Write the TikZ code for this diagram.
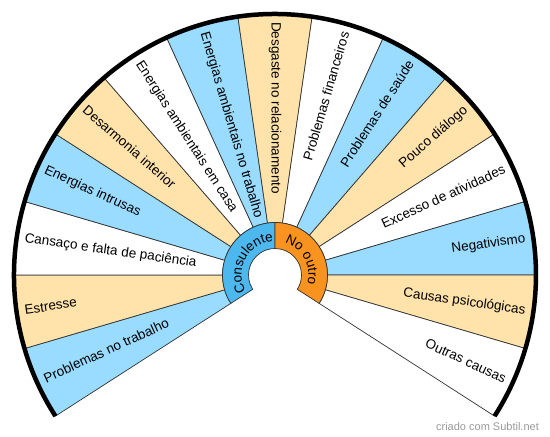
\documentclass[tikz,border=0pt]{standalone}
\usepackage{fontspec}
\setmainfont{Liberation Sans}
\usetikzlibrary{decorations.text}

\definecolor{fanblue}{RGB}{153,220,255}
\definecolor{fanbeige}{RGB}{255,227,170}
\definecolor{ringblue}{RGB}{77,184,238}
\definecolor{ringorange}{RGB}{247,147,30}
\definecolor{fanedge}{RGB}{50,50,50}
\newcommand\chartfont{\fontsize{13.5pt}{16pt}\selectfont}

\begin{document}
\begin{tikzpicture}[cause/.style={font=\chartfont, inner sep=0pt, text height=9.5pt, text depth=2.8pt},
  slice/.style={draw=fanedge, line width=0.7pt}]
 \useasboundingbox (-275pt,-162pt) rectangle (275pt,275pt);
 \foreach \lbl/\col [count=\i from 0] in {Problemas no trabalho/fanblue, Estresse/fanbeige,
   Cansaço e falta de paciência/white, Energias intrusas/fanblue, Desarmonia interior/fanbeige,
   Energias ambientais em casa/white, Energias ambientais no trabalho/fanblue,
   Desgaste no relacionamento/fanbeige, Problemas financeiros/white, Problemas de saúde/fanblue,
   Pouco diálogo/fanbeige, Excesso de atividades/white, Negativismo/fanblue,
   Causas psicológicas/fanbeige, Outras causas/white}
 {
  \pgfmathsetmacro{\a}{212.727-\i*16.3636}
  \pgfmathsetmacro{\b}{\a-16.3636}
  \pgfmathsetmacro{\m}{\a-8.1818}
  \filldraw [slice, fill=\col] (\a:52.5pt) -- (\a:261pt) arc [start angle=\a, end angle=\b, radius=261pt]
    -- (\b:52.5pt) arc [start angle=\b, end angle=\a, radius=52.5pt] -- cycle;
  \ifnum\i<8
   \node [cause, anchor=west, rotate=\m-180] (c\i) at (\m:253pt) {\lbl};
  \else
   \node [cause, anchor=east, rotate=\m] (c\i) at (\m:253pt) {\lbl};
  \fi
 }
 \begin {scope} [draw=fanedge, line width=0.7pt]
  \filldraw [fill=ringblue] (212.727:26.5pt) arc [start angle=212.727, end angle=90, radius=26.5pt]
    -- (90:52.5pt) arc [start angle=90, end angle=212.727, radius=52.5pt] -- cycle;
  \filldraw [fill=ringorange] (90:26.5pt) arc [start angle=90, end angle=-32.727, radius=26.5pt]
    -- (-32.727:52.5pt) arc [start angle=-32.727, end angle=90, radius=52.5pt] -- cycle;
 \end {scope}
 \path [decorate, decoration={text along path, text={|\chartfont|Consulente}, text align=center}]
   (212.727:33.5pt) arc [start angle=212.727, end angle=90, radius=33.5pt];
 \path [decorate, decoration={text along path, text={|\chartfont|No outro}, text align=center}]
   (90:33.5pt) arc [start angle=90, end angle=-32.727, radius=33.5pt];
 \draw [line width=4.5pt] (212.727:261pt) arc [start angle=212.727, end angle=-32.727, radius=261pt];
 \node [text=black!40, font=\fontsize{11pt}{13pt}\selectfont, inner sep=0pt] (credit) at (212.5pt,-151.7pt) {criado com Subtil.net};
\end{tikzpicture}
\end{document}
